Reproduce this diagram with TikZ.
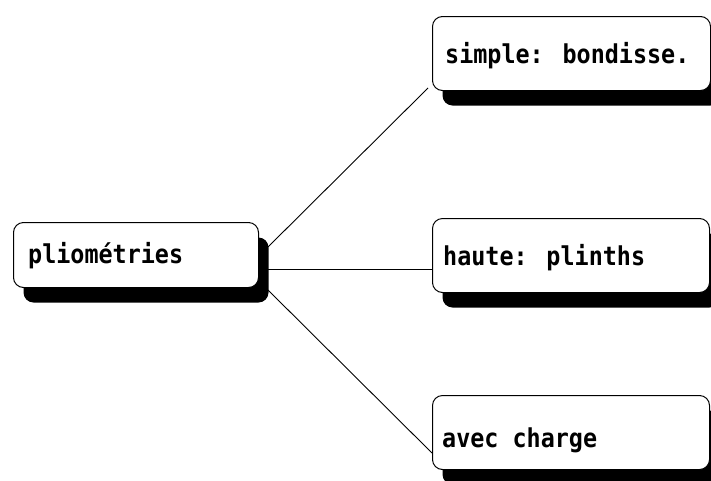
\documentclass[tikz,border=0pt]{standalone}
\usepackage{fontspec}
\newfontfamily\boxfont{DejaVu Sans Mono}[BoldFont={DejaVu Sans Mono Bold}, FakeStretch=0.9]
\usetikzlibrary{shadows}
\begin{document}
\begin{tikzpicture}[x=1pt,y=-1pt,
  box/.style={draw=black, line width=1pt, fill=white, rounded corners=10pt,
    rectangle, inner sep=0pt, anchor=north west,
    general shadow={fill=black, shadow xshift=10pt, shadow yshift=-15pt}},
  lbl/.style={anchor=base west, inner sep=0pt, font=\boxfont\bfseries\fontsize{26}{30}\selectfont},
  conn/.style={draw=black, line width=0.9pt}]
\useasboundingbox[fill=white] (0,0) rectangle (711,480);
% boxes
\node[box, minimum width=245pt, minimum height=65pt] (A) at (13,222) {};
\node[box, minimum width=278pt, minimum height=74pt] (B) at (432,16) {};
\node[box, minimum width=277pt, minimum height=74pt] (C) at (432,218) {};
\node[box, minimum width=277pt, minimum height=74pt] (D) at (432,395) {};
% labels
\node[lbl] (tA) at (28,263) {pliométries};
\node[lbl] (tB) at (445,63) {simple: bondisse.};
\node[lbl] (tC) at (443,265) {haute: plinths};
\node[lbl] (tD) at (442,447) {avec charge};
% connector ends
\coordinate (a1) at (268,247);
\coordinate (a2) at (268,269.5);
\coordinate (a3) at (268,290);
\coordinate (b1) at (428,88);
\coordinate (c1) at (432,269.5);
\coordinate (d1) at (432,453);
\draw[conn] (a1) -- (b1);
\draw[conn] (a2) -- (c1);
\draw[conn] (a3) -- (d1);
\end{tikzpicture}
\end{document}
